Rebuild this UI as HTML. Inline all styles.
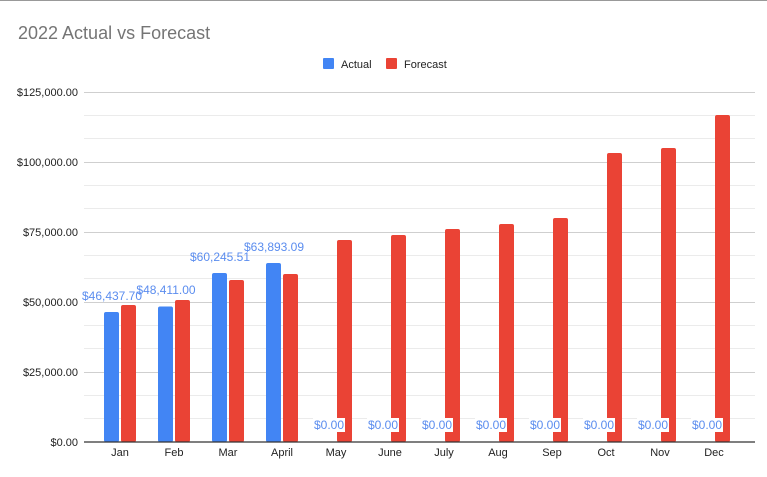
<!DOCTYPE html>
<html><head><style>body{margin:0;background:#fff}svg{display:block}</style></head><body>
<svg width="767" height="477" xmlns="http://www.w3.org/2000/svg" font-family="Liberation Sans, Arial, sans-serif">
<rect width="767" height="477" fill="#fff"/>
<line x1="0" y1="0.5" x2="767" y2="0.5" stroke="#999" stroke-width="1"/>
<text x="18" y="39" font-size="18" fill="#757575">2022 Actual vs Forecast</text>
<rect x="323" y="58" width="11" height="11" rx="1" fill="#4285f4"/>
<text x="341" y="68" font-size="11" fill="#222">Actual</text>
<rect x="386" y="58" width="11" height="11" rx="1" fill="#ea4335"/>
<text x="404" y="68" font-size="11" fill="#222">Forecast</text>
<g id="grid" stroke-width="1">
<g stroke="#ebebeb">
<line x1="84" x2="755" y1="115.5" y2="115.5"/><line x1="84" x2="755" y1="138.5" y2="138.5"/>
<line x1="84" x2="755" y1="185.5" y2="185.5"/><line x1="84" x2="755" y1="208.5" y2="208.5"/>
<line x1="84" x2="755" y1="255.5" y2="255.5"/><line x1="84" x2="755" y1="278.5" y2="278.5"/>
<line x1="84" x2="755" y1="325.5" y2="325.5"/><line x1="84" x2="755" y1="348.5" y2="348.5"/>
<line x1="84" x2="755" y1="395.5" y2="395.5"/><line x1="84" x2="755" y1="418.5" y2="418.5"/>
</g>
<g stroke="#cfcfcf">
<line x1="84" x2="755" y1="92.5" y2="92.5"/><line x1="84" x2="755" y1="162.5" y2="162.5"/>
<line x1="84" x2="755" y1="232.5" y2="232.5"/><line x1="84" x2="755" y1="302.5" y2="302.5"/>
<line x1="84" x2="755" y1="372.5" y2="372.5"/>
</g>
</g>
<g font-size="11" fill="#222" text-anchor="end">
<text x="78" y="96">$125,000.00</text><text x="78" y="166">$100,000.00</text>
<text x="78" y="236">$75,000.00</text><text x="78" y="306">$50,000.00</text>
<text x="78" y="376">$25,000.00</text><text x="78" y="446">$0.00</text>
</g>
<g fill="#4285f4">
<rect x="104" y="312" width="15" height="130" rx="2"/>
<rect x="158" y="306.5" width="15" height="135.5" rx="2"/>
<rect x="212" y="273" width="15" height="169" rx="2"/>
<rect x="266" y="263" width="15" height="179" rx="2"/>
</g>
<g fill="#ea4335">
<rect x="121" y="305" width="15" height="137" rx="2"/>
<rect x="175" y="300" width="15" height="142" rx="2"/>
<rect x="229" y="280" width="15" height="162" rx="2"/>
<rect x="283" y="274" width="15" height="168" rx="2"/>
<rect x="337" y="240" width="15" height="202" rx="2"/>
<rect x="391" y="235" width="15" height="207" rx="2"/>
<rect x="445" y="229" width="15" height="213" rx="2"/>
<rect x="499" y="224" width="15" height="218" rx="2"/>
<rect x="553" y="218" width="15" height="224" rx="2"/>
<rect x="607" y="153" width="15" height="289" rx="2"/>
<rect x="661" y="148" width="15" height="294" rx="2"/>
<rect x="715" y="115" width="15" height="327" rx="2"/>
</g>
<line x1="84" x2="755" y1="442" y2="442" stroke="#333" stroke-width="1.3"/>
<g font-size="12" fill="#5b8def" text-anchor="middle">
<text x="112" y="300">$46,437.70</text>
<text x="166" y="294">$48,411.00</text>
<text x="220" y="261">$60,245.51</text>
<text x="274" y="251">$63,893.09</text>
<g>
<rect x="313" y="418" width="32" height="14" fill="#fff"/><text x="329" y="429">$0.00</text>
<rect x="367" y="418" width="32" height="14" fill="#fff"/><text x="383" y="429">$0.00</text>
<rect x="421" y="418" width="32" height="14" fill="#fff"/><text x="437" y="429">$0.00</text>
<rect x="475" y="418" width="32" height="14" fill="#fff"/><text x="491" y="429">$0.00</text>
<rect x="529" y="418" width="32" height="14" fill="#fff"/><text x="545" y="429">$0.00</text>
<rect x="583" y="418" width="32" height="14" fill="#fff"/><text x="599" y="429">$0.00</text>
<rect x="637" y="418" width="32" height="14" fill="#fff"/><text x="653" y="429">$0.00</text>
<rect x="691" y="418" width="32" height="14" fill="#fff"/><text x="707" y="429">$0.00</text>
</g>
</g>
<g font-size="11" fill="#222" text-anchor="middle">
<text x="120" y="456">Jan</text><text x="174" y="456">Feb</text><text x="228" y="456">Mar</text>
<text x="282" y="456">April</text><text x="336" y="456">May</text><text x="390" y="456">June</text>
<text x="444" y="456">July</text><text x="498" y="456">Aug</text><text x="552" y="456">Sep</text>
<text x="606" y="456">Oct</text><text x="660" y="456">Nov</text><text x="714" y="456">Dec</text>
</g>
</svg>
</body></html>
